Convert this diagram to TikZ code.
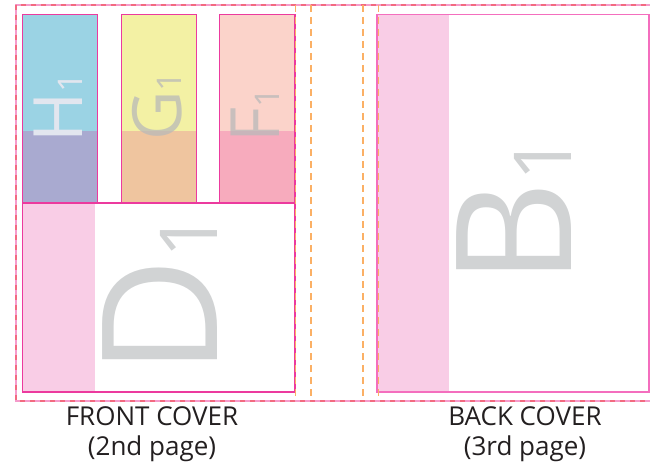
\documentclass[tikz,border=0pt]{standalone}
\usepackage{fontspec}
\setmainfont{Open Sans}
\definecolor{pagemag}{HTML}{EC3A9E}
\definecolor{stripp}{HTML}{F9CDE6}
\definecolor{hblue}{HTML}{9BD3E4}
\definecolor{hlav}{HTML}{A9AAD0}
\definecolor{gyel}{HTML}{F3F1A4}
\definecolor{gora}{HTML}{EFC59F}
\definecolor{fpea}{HTML}{FBD3CA}
\definecolor{fpin}{HTML}{F7ABBD}
\definecolor{orngd}{HTML}{FBB065}
\definecolor{outpink}{HTML}{F59BCB}
\definecolor{outred}{HTML}{F26A80}
\definecolor{biggray}{HTML}{D1D3D4}
\definecolor{labtxt}{HTML}{231F20}
\tikzset{
  pagebox/.style={draw=pagemag, line width=1.1pt},
  fold/.style={draw=orngd, line width=1.2pt, dash pattern=on 7pt off 5pt},
  bigletter/.style={rotate=90, anchor=base west, inner sep=0pt, text=biggray, font=\fontsize{161}{161}\selectfont},
  smallletter/.style={rotate=90, anchor=base west, inner sep=0pt, font=\fontsize{68}{68}\selectfont},
  covlabel/.style={align=center, text=labtxt, font=\fontsize{26}{30}\selectfont, inner sep=0pt}
}
\newcommand{\smallone}{{\fontsize{34}{34}\selectfont 1}}
\newcommand{\bigone}{{\fontsize{80}{80}\selectfont 1}}
\begin{document}
\begin{tikzpicture}[x=1pt,y=-1pt]
\useasboundingbox (0,0) rectangle (650,476);
\begin{scope}
\clip (0,0) rectangle (650,476);
% outer trim rectangle
\draw[outpink, line width=2pt] (16,5) rectangle (680,401);
\draw[outred, line width=2pt, dash pattern=on 5pt off 5pt] (16,5) rectangle (680,401);
% pink strips
\fill[stripp] (22.7,203) rectangle (95,392);
\fill[stripp] (377,14.7) rectangle (449.3,392);
% coloured boxes
\fill[hblue] (22.7,14.7) rectangle (97.7,131);
\fill[hlav] (22.7,131) rectangle (97.7,203);
\fill[gyel] (121.3,14.7) rectangle (196.3,131);
\fill[gora] (121.3,131) rectangle (196.3,203);
\fill[fpea] (219.3,14.7) rectangle (295,131);
\fill[fpin] (219.3,131) rectangle (295,203);
% letters
\node[smallletter, text={rgb,255:red,226;green,230;blue,239}] (hl) at (82,143) {H\smallone};
\node[smallletter, text={rgb,255:red,185;green,185;blue,185}, text opacity=0.75] (gl) at (181,141) {G\smallone};
\node[smallletter, text={rgb,255:red,185;green,185;blue,185}, text opacity=0.75] (fl) at (279,143) {F\smallone};
\node[bigletter] (dl) at (217,376) {D\bigone};
\node[bigletter] (bl) at (571,286) {B\bigone};
% box outlines
\draw[pagebox] (22.7,14.7) rectangle (97.7,203);
\draw[pagebox] (121.3,14.7) rectangle (196.3,203);
\draw[pagebox] (219.3,14.7) rectangle (295,203);
\draw[pagebox] (22.7,203) rectangle (295,392);
\draw[pagebox, draw={rgb,255:red,244;green,110;blue,190}, line width=1.6pt] (377,14.7) rectangle (648.7,392);
% fold lines
\draw[fold] (295.5,5) -- (295.5,401);
\draw[fold] (311,5) -- (311,401);
\draw[fold] (363,5) -- (363,401);
\draw[fold] (378.5,5) -- (378.5,401);
\end{scope}
% labels
\node[covlabel] (front) at (152,434) {FRONT COVER\\(2nd page)};
\node[covlabel] (back) at (525,434) {BACK COVER\\(3rd page)};
\end{tikzpicture}
\end{document}
